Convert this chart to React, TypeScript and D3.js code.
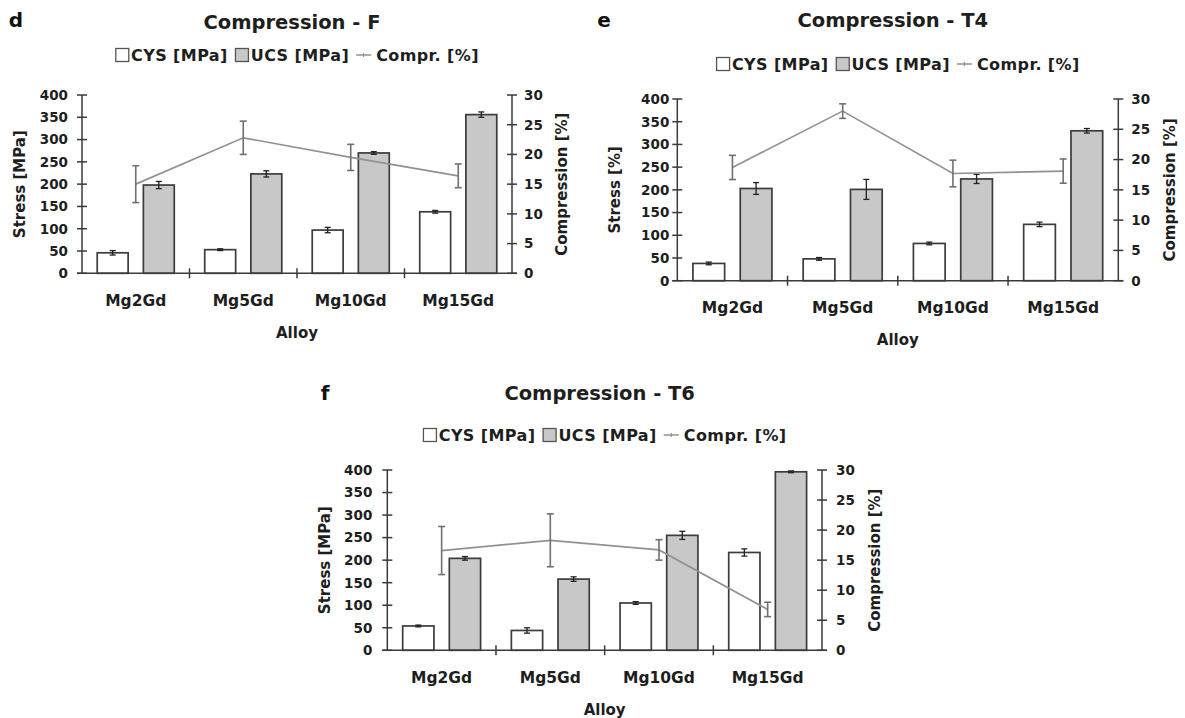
import React, { useEffect, useRef } from "react";
import * as d3 from "d3";

const categories = ["Mg2Gd", "Mg5Gd", "Mg10Gd", "Mg15Gd"];
const stressTicks = [0, 50, 100, 150, 200, 250, 300, 350, 400];
const comprTicks = [0, 5, 10, 15, 20, 25, 30];
const seriesNames = ["CYS [MPa]", "UCS [MPa]", "Compr. [%]"];

// Panel d – F
const cysF = [46, 53, 97, 138];
const cysFErr = [5, 2, 6, 3];
const ucsF = [198, 223, 270, 356];
const ucsFErr = [8, 7, 3, 6];
const comprF = [15.0, 22.8, 19.5, 16.4];
const comprFErr = [3.1, 2.8, 2.2, 2.0];

// Panel e – T4
const cysT4 = [38, 48, 82, 124];
const cysT4Err = [3, 3, 3, 5];
const ucsT4 = [203, 201, 224, 330];
const ucsT4Err = [13, 22, 10, 5];
const comprT4 = [18.7, 28.0, 17.7, 18.1];
const comprT4Err = [2.0, 1.2, 2.2, 2.0];

// Panel f – T6
const cysT6 = [54, 44, 105, 217];
const cysT6Err = [2, 6, 3, 8];
const ucsT6 = [204, 158, 255, 396];
const ucsT6Err = [4, 5, 9, 2];
const comprT6 = [16.6, 18.3, 16.7, 6.8];
const comprT6Err = [4.0, 4.4, 1.7, 1.2];

const FONT = "'DejaVu Sans', 'Liberation Sans', Arial, sans-serif";
const TEXT = "#1e1e1e";
const AXIS = "#3a3a3a";

const panels = [
  {
    letter: "d", title: "Compression - F", yLabel: "Stress [MPa]",
    cys: cysF, cysErr: cysFErr, ucs: ucsF, ucsErr: ucsFErr, compr: comprF, comprErr: comprFErr,
    left: 82, right: 512, top: 95, bottom: 273.3,
    letterX: 16, letterY: 20, titleY: 22, legendY: 55, leftGap: 14, rightGap: 12,
    yLabelX: 20, y2LabelX: 562,
  },
  {
    letter: "e", title: "Compression - T4", yLabel: "Stress [%]",
    cys: cysT4, cysErr: cysT4Err, ucs: ucsT4, ucsErr: ucsT4Err, compr: comprT4, comprErr: comprT4Err,
    left: 677.3, right: 1118.3, top: 99, bottom: 280.7,
    letterX: 604, letterY: 20, titleY: 20, legendY: 64, leftGap: 8, rightGap: 13,
    yLabelX: 615, y2LabelX: 1170,
  },
  {
    letter: "f", title: "Compression - T6", yLabel: "Stress [MPa]",
    cys: cysT6, cysErr: cysT6Err, ucs: ucsT6, ucsErr: ucsT6Err, compr: comprT6, comprErr: comprT6Err,
    left: 387.3, right: 822, top: 470, bottom: 650.3,
    letterX: 325, letterY: 393, titleY: 393, legendY: 435, leftGap: 15, rightGap: 14,
    yLabelX: 325, y2LabelX: 875,
  },
];

function drawPanel(svg: any, p: any) {
  const g = svg.append("g");
  const x = d3.scaleBand().domain(categories).range([p.left, p.right]).paddingInner(0).paddingOuter(0);
  const bw = x.bandwidth();
  const xs = d3.scaleBand().domain(["CYS", "UCS"]).range([0, bw]).paddingInner(0.33).paddingOuter(0.33);
  const y = d3.scaleLinear().domain([0, 400]).range([p.bottom, p.top]);
  const y2 = d3.scaleLinear().domain([0, 30]).range([p.bottom, p.top]);
  const cx = (c: string) => (x(c) as number) + bw / 2;

  // bars
  const bars = [
    { key: "CYS", vals: p.cys, errs: p.cysErr, fill: "#ffffff" },
    { key: "UCS", vals: p.ucs, errs: p.ucsErr, fill: "#c8c8c8" },
  ];
  bars.forEach((s) => {
    g.selectAll(null)
      .data(categories)
      .enter()
      .append("rect")
      .attr("x", (c: string) => (x(c) as number) + (xs(s.key) as number))
      .attr("y", (_: any, i: number) => y(s.vals[i]))
      .attr("width", xs.bandwidth())
      .attr("height", (_: any, i: number) => y(0) - y(s.vals[i]))
      .attr("fill", s.fill)
      .attr("stroke", "#3c3c3c")
      .attr("stroke-width", 1.7);
    categories.forEach((c, i) => {
      const mx = (x(c) as number) + (xs(s.key) as number) + xs.bandwidth() / 2;
      const v = s.vals[i], e = s.errs[i];
      const eg = g.append("g").attr("stroke", "#222").attr("stroke-width", 1.3);
      eg.append("line").attr("x1", mx).attr("x2", mx).attr("y1", y(v - e)).attr("y2", y(v + e));
      eg.append("line").attr("x1", mx - 3).attr("x2", mx + 3).attr("y1", y(v - e)).attr("y2", y(v - e));
      eg.append("line").attr("x1", mx - 3).attr("x2", mx + 3).attr("y1", y(v + e)).attr("y2", y(v + e));
    });
  });

  // axes
  const ax = g.append("g").attr("stroke", AXIS).attr("stroke-width", 1.5);
  ax.append("line").attr("x1", p.left).attr("x2", p.left).attr("y1", y(400)).attr("y2", y(0));
  ax.append("line").attr("x1", p.right).attr("x2", p.right).attr("y1", y2(30)).attr("y2", y2(0));
  ax.append("line").attr("x1", p.left - 5).attr("x2", p.right + 5).attr("y1", y(0)).attr("y2", y(0));
  stressTicks.forEach((t) => {
    ax.append("line").attr("x1", p.left - 5).attr("x2", p.left + 5).attr("y1", y(t)).attr("y2", y(t));
  });
  comprTicks.forEach((t) => {
    ax.append("line").attr("x1", p.right - 5).attr("x2", p.right + 5).attr("y1", y2(t)).attr("y2", y2(t));
  });
  categories.slice(1).forEach((c) => {
    const xx = x(c) as number;
    ax.append("line").attr("x1", xx).attr("x2", xx).attr("y1", y(0) - 5).attr("y2", y(0) + 5);
  });

  const txt = g.append("g").attr("font-family", FONT).attr("font-weight", "bold").attr("fill", TEXT);
  stressTicks.forEach((t) => {
    txt.append("text").attr("x", p.left - p.leftGap).attr("y", y(t)).attr("dy", "0.36em")
      .attr("text-anchor", "end").attr("font-size", 13.5).text(t);
  });
  comprTicks.forEach((t) => {
    txt.append("text").attr("x", p.right + p.rightGap).attr("y", y2(t)).attr("dy", "0.36em")
      .attr("text-anchor", "start").attr("font-size", 13.5).text(t);
  });
  categories.forEach((c) => {
    txt.append("text").attr("x", cx(c)).attr("y", y(0) + 27).attr("dy", "0.36em")
      .attr("text-anchor", "middle").attr("font-size", 15.5).text(c);
  });
  txt.append("text").attr("x", (p.left + p.right) / 2).attr("y", y(0) + 59).attr("dy", "0.36em")
    .attr("text-anchor", "middle").attr("font-size", 15).text("Alloy");
  const ymid = (p.top + p.bottom) / 2;
  txt.append("text").attr("transform", `translate(${p.yLabelX},${ymid}) rotate(-90)`).attr("dy", "0.36em")
    .attr("text-anchor", "middle").attr("font-size", 15).text(p.yLabel);
  txt.append("text").attr("transform", `translate(${p.y2LabelX},${ymid}) rotate(-90)`).attr("dy", "0.36em")
    .attr("text-anchor", "middle").attr("font-size", 15).text("Compression [%]");

  // compression line
  const line = d3.line<number>().x((_, i) => cx(categories[i])).y((v) => y2(v));
  g.append("path").attr("d", line(p.compr)).attr("fill", "none").attr("stroke", "#929292").attr("stroke-width", 1.7);
  categories.forEach((c, i) => {
    const mx = cx(c);
    const v = p.compr[i], e = p.comprErr[i];
    const eg = g.append("g").attr("stroke", "#707070").attr("stroke-width", 1.6);
    eg.append("line").attr("x1", mx).attr("x2", mx).attr("y1", y2(v - e)).attr("y2", y2(v + e));
    eg.append("line").attr("x1", mx - 3.5).attr("x2", mx + 3.5).attr("y1", y2(v - e)).attr("y2", y2(v - e));
    eg.append("line").attr("x1", mx - 3.5).attr("x2", mx + 3.5).attr("y1", y2(v + e)).attr("y2", y2(v + e));
  });

  // title & letter
  const center = (p.left + p.right) / 2 - 5;
  txt.append("text").attr("x", center).attr("y", p.titleY).attr("dy", "0.36em")
    .attr("text-anchor", "middle").attr("font-size", 19.5).text(p.title);
  txt.append("text").attr("x", p.letterX).attr("y", p.letterY).attr("dy", "0.36em")
    .attr("text-anchor", "middle").attr("font-size", 20).attr("fill", "#111").text(p.letter);

  // legend
  const lg = g.append("g");
  let cur = 0;
  seriesNames.forEach((name, i) => {
    const sym = lg.append("g").attr("transform", `translate(${cur},0)`);
    let symW = 0;
    if (i < 2) {
      sym.append("rect").attr("x", 0.7).attr("y", -6.5).attr("width", 13).attr("height", 13)
        .attr("fill", i === 0 ? "#fff" : "#c8c8c8").attr("stroke", "#555").attr("stroke-width", 1.3);
      symW = 16;
    } else {
      sym.append("line").attr("x1", 0).attr("x2", 15).attr("y1", 0).attr("y2", 0).attr("stroke", "#929292").attr("stroke-width", 1.5);
      sym.append("line").attr("x1", 7.5).attr("x2", 7.5).attr("y1", -2).attr("y2", 2).attr("stroke", "#929292").attr("stroke-width", 1.2);
      symW = 20;
    }
    cur += symW;
    const t = lg.append("text").attr("x", cur).attr("y", 0).attr("dy", "0.36em")
      .attr("font-family", FONT).attr("font-weight", "bold").attr("font-size", 16)
      .attr("letter-spacing", 0.4).attr("fill", TEXT).text(name);
    const w = (t.node() as SVGTextElement).getComputedTextLength();
    cur += w + 7;
  });
  const total = cur - 7;
  lg.attr("transform", `translate(${(p.left + p.right) / 2 - total / 2},${p.legendY})`);
}

export default function App() {
  const ref = useRef<SVGSVGElement>(null);
  useEffect(() => {
    const svg = d3.select(ref.current);
    svg.selectAll("*").remove();
    panels.forEach((p) => drawPanel(svg, p));
  }, []);
  return (
    <svg
      ref={ref}
      width={1185}
      height={718}
      style={{ position: "absolute", left: 0, top: 0, background: "#fff" }}
    />
  );
}
